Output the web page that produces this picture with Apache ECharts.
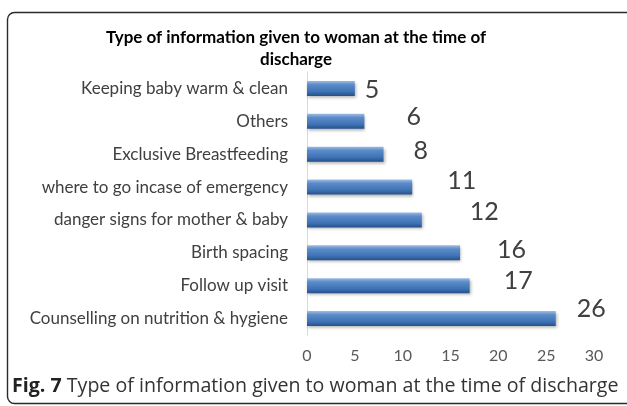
<!DOCTYPE html>
<html>
<head>
<meta charset="utf-8">
<script src="https://cdn.jsdelivr.net/npm/echarts@6/dist/echarts.min.js"></script>
<style>
  html, body { margin: 0; padding: 0; background: #fff; }
  #chart { width: 627px; height: 406px; }
</style>
</head>
<body>
<div id="chart"></div>
<script>
// categories bottom -> top (ECharts category order)
var categories = ['Counselling on nutrition & hygiene', 'Follow up visit', 'Birth spacing',
  'danger signs for mother & baby', 'where to go incase of emergency',
  'Exclusive Breastfeeding', 'Others', 'Keeping baby warm & clean'];
var counts = [26, 17, 16, 12, 11, 8, 6, 5];
var xTicks = [0, 5, 10, 15, 20, 25, 30];

// hand-placed value labels in the original, offsets from the bar end
var labelOffsets = [[16, -10], [29, -5], [32, -3], [43, -8], [30, -6], [25, -3], [37, -4], [5, 1]];

var barData = counts.map(function (v, i) {
  return { value: v, label: { offset: labelOffsets[i] } };
});

var myChart = echarts.init(document.getElementById('chart'));
var option = {
  animation: false,
  grid: { left: 307, right: 33, top: 72, bottom: 71 },
  graphic: [
    {
      type: 'rect', z: -1,
      shape: { x: 7.5, y: 12.5, width: 640, height: 391, r: 7 },
      style: { fill: 'none', stroke: '#2b2b2b', lineWidth: 1.4 }
    },
    {
      type: 'text', x: 296, y: 27,
      style: {
        text: 'Type of information given to woman at the time of\ndischarge',
        align: 'center', font: 'bold 17px Lato', fill: '#000', lineHeight: 22
      }
    },
    {
      type: 'text', left: 12, top: 376,
      style: {
        text: '{b|Fig. 7} Type of information given to woman at the time of discharge',
        font: '19.6px "Open Sans"', fill: '#333',
        rich: { b: { font: 'bold 19.6px "Open Sans"', fill: '#222' } }
      }
    }
  ],
  xAxis: {
    type: 'value', min: 0, max: 30, interval: 5,
    axisLine: { show: false }, axisTick: { show: false }, splitLine: { show: false },
    axisLabel: {
      margin: 13, color: '#595959', fontFamily: 'Lato', fontSize: 16,
      formatter: function (v) { return xTicks.indexOf(v) >= 0 ? String(v) : ''; }
    }
  },
  yAxis: {
    type: 'category', data: categories,
    axisLine: { show: true, lineStyle: { color: '#d9d9d9', width: 1 } },
    axisTick: { show: false },
    axisLabel: { margin: 19, color: '#404040', fontFamily: 'Lato', fontSize: 17 }
  },
  series: [{
    type: 'bar', data: barData, barWidth: 15,
    itemStyle: {
      color: new echarts.graphic.LinearGradient(0, 0, 0, 1, [
        { offset: 0, color: '#9dbbe4' },
        { offset: 0.25, color: '#5b8bc9' },
        { offset: 0.7, color: '#3f73b5' },
        { offset: 1, color: '#25508a' }
      ]),
      shadowColor: 'rgba(0,0,0,0.3)', shadowBlur: 3, shadowOffsetX: 1, shadowOffsetY: 2
    },
    label: {
      show: true, position: 'right', distance: 5,
      color: '#404040', fontFamily: 'Lato', fontSize: 25
    }
  }]
};
myChart.setOption(option);
</script>
</body>
</html>
